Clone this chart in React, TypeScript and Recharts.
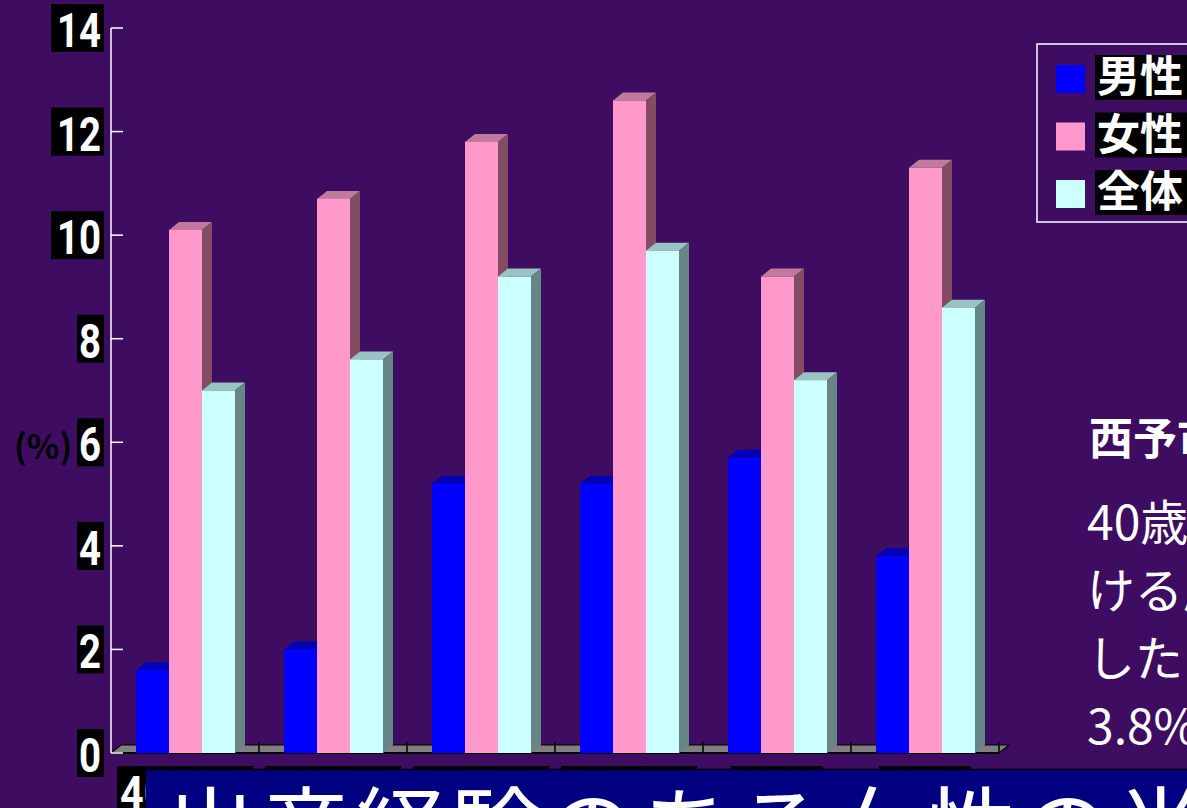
import React from 'react';
import { BarChart, Bar, XAxis, YAxis, ReferenceArea } from 'recharts';

// ---- data ----
const categories = ['40歳代', '50歳代', '60歳代', '70歳代', '80代', '全体'];
const maleValues = [1.6, 2.0, 5.2, 5.2, 5.7, 3.8];
const femaleValues = [10.1, 10.7, 11.8, 12.6, 9.2, 11.3];
const totalValues = [7.0, 7.6, 9.2, 9.7, 7.2, 8.6];
const yTicks = [0, 2, 4, 6, 8, 10, 12, 14];
const seriesNames = ['男性', '女性', '全体'];
const unitLabel = '(%)';
const noteTitle = '西予市における調査';
const noteLines = ['40歳以上の住民にお', 'ける尿失禁の有病率', 'したところ、男性', '3.8%、女性11.3%', 'となった'];
const bannerText = '出産経験のある女性の半数';

const data = categories.map((c, i) => ({
  category: c,
  male: maleValues[i],
  female: femaleValues[i],
  total: totalValues[i],
}));

const COLORS = {
  male: { front: '#0000ff', top: '#0000b8', side: '#00008a' },
  female: { front: '#ff99cc', top: '#c27a9c', side: '#824c62' },
  total: { front: '#ccffff', top: '#99c2c2', side: '#668585' },
};
const seriesColors = [COLORS.male.front, COLORS.female.front, COLORS.total.front];

const DX = 10;
const DY = 8;
const BG = '#3e0c60';
const NARROW = "Roboto, 'Liberation Sans', sans-serif";
const CJK = "'Noto Sans CJK JP', 'Noto Sans CJK SC', sans-serif";

function make3D(c: { front: string; top: string; side: string }) {
  return (props: any) => {
    const { x, y, width, height } = props;
    if (x == null || y == null || !width || height == null) return <g />;
    return (
      <g>
        <polygon
          points={`${x},${y} ${x + DX},${y - DY} ${x + width + DX},${y - DY} ${x + width},${y}`}
          fill={c.top}
        />
        <polygon
          points={`${x + width},${y} ${x + width + DX},${y - DY} ${x + width + DX},${y + height - DY} ${x + width},${y + height}`}
          fill={c.side}
        />
        <rect x={x} y={y} width={width} height={height} fill={c.front} />
      </g>
    );
  };
}

const FloorShape = (props: any) => {
  const { x, y, width, height } = props;
  if (x == null) return <g />;
  const yf = y + height;
  const n = categories.length;
  const ticks = [];
  for (let k = 1; k <= n; k++) {
    const xk = x + (k * width) / n;
    ticks.push(<line key={k} x1={xk} x2={xk} y1={yf} y2={yf - 11} stroke="#000" strokeWidth={1.5} />);
  }
  return (
    <g>
      <polygon
        points={`${x},${yf} ${x + DX},${yf - DY} ${x + width + DX},${yf - DY} ${x + width},${yf}`}
        fill="#808080"
        stroke="#000"
        strokeWidth={1.2}
      />
      <line x1={x} x2={x + width} y1={yf} y2={yf} stroke="#000" strokeWidth={2} />
      {ticks}
    </g>
  );
};

const YTick = (props: any) => {
  const { x, y, payload } = props;
  const label = String(payload.value);
  const w = label.length * 26 + 1;
  return (
    <g>
      <line x1={x + 7} x2={x + 19} y1={y} y2={y} stroke="#fff" strokeWidth={1.5} />
      <rect x={x - w} y={y - 24} width={w} height={48} fill="#000" />
      <text
        x={x - 3}
        y={y + 19}
        textAnchor="end"
        fill="#fff"
        fontSize={48}
        fontWeight="bold"
        fontFamily={NARROW}
        textLength={label.length * 22}
        lengthAdjust="spacingAndGlyphs"
      >
        {label}
      </text>
    </g>
  );
};

const XTick = (props: any) => {
  const { x, y, payload } = props;
  const label = String(payload.value);
  let w = 4;
  for (const ch of label) w += /[0-9]/.test(ch) ? 22 : 44;
  return (
    <g>
      <rect x={x - w / 2} y={y} width={w} height={48} fill="#000" />
      <text
        x={x - w / 2 + 3}
        y={y + 43}
        fill="#fff"
        fontSize={46}
        fontWeight="bold"
        fontFamily={NARROW}
        textLength={w - 6}
        lengthAdjust="spacingAndGlyphs"
      >
        {label}
      </text>
    </g>
  );
};

export default function App() {
  return (
    <div
      style={{
        position: 'fixed',
        left: 0,
        top: 0,
        width: 1187,
        height: 808,
        overflow: 'hidden',
        background: BG,
      }}
    >
      <BarChart
        width={1187}
        height={808}
        data={data}
        margin={{ top: 28, right: 188, bottom: 0, left: 0 }}
        barGap={0}
      >
        <XAxis
          dataKey="category"
          height={55}
          axisLine={false}
          tickLine={false}
          tickSize={0}
          tickMargin={13}
          interval={0}
          tick={XTick}
        />
        <YAxis
          domain={[0, 14]}
          ticks={yTicks}
          interval={0}
          width={111}
          tickSize={0}
          tickMargin={7}
          tickLine={false}
          axisLine={{ stroke: '#ffffff', strokeWidth: 1.5 }}
          tick={YTick}
        />
        <ReferenceArea y1={0} y2={0.5} shape={FloorShape} />
        <Bar dataKey="male" barSize={33} fill={COLORS.male.front} shape={make3D(COLORS.male)} isAnimationActive={false} />
        <Bar dataKey="female" barSize={33} fill={COLORS.female.front} shape={make3D(COLORS.female)} isAnimationActive={false} />
        <Bar dataKey="total" barSize={33} fill={COLORS.total.front} shape={make3D(COLORS.total)} isAnimationActive={false} />
      </BarChart>

      <svg
        width={1187}
        height={808}
        style={{ position: 'absolute', left: 0, top: 0, pointerEvents: 'none' }}
      >
        {/* unit label */}
        <text x={14} y={459} fontSize={34} fontWeight="bold" fill="#000" fontFamily={CJK}>
          {unitLabel}
        </text>

        {/* legend */}
        <rect x={1037} y={44} width={200} height={178} fill="none" stroke="#fff" strokeWidth={1.5} />
        {seriesNames.map((name, i) => (
          <g key={name}>
            <rect x={1056} y={65 + i * 57.5} width={29} height={28} fill={seriesColors[i]} />
            <rect x={1095} y={55 + i * 57.5} width={100} height={45} fill="#000" />
            <text x={1097} y={92 + i * 57.5} fontSize={43} fontWeight="bold" fill="#fff" fontFamily={CJK}>
              {name}
            </text>
          </g>
        ))}

        {/* note text */}
        <text x={1089} y={455} fontSize={44} fontWeight="bold" fill="#fff" fontFamily={CJK}>
          {noteTitle}
        </text>
        {noteLines.map((line, i) => (
          <text key={i} x={1087} y={540 + i * 68} fontSize={48} fill="#fff" fontFamily={CJK}>
            {line}
          </text>
        ))}

        {/* banner */}
        <rect x={146} y={769} width={1100} height={60} fill="#000080" />
        <line x1={146} x2={1187} y1={769.5} y2={769.5} stroke="#000" strokeWidth={1.5} />
        <text x={165} y={864} fontSize={92} letterSpacing={3} fill="#fff" fontFamily={CJK}>
          {bannerText}
        </text>
      </svg>
    </div>
  );
}
